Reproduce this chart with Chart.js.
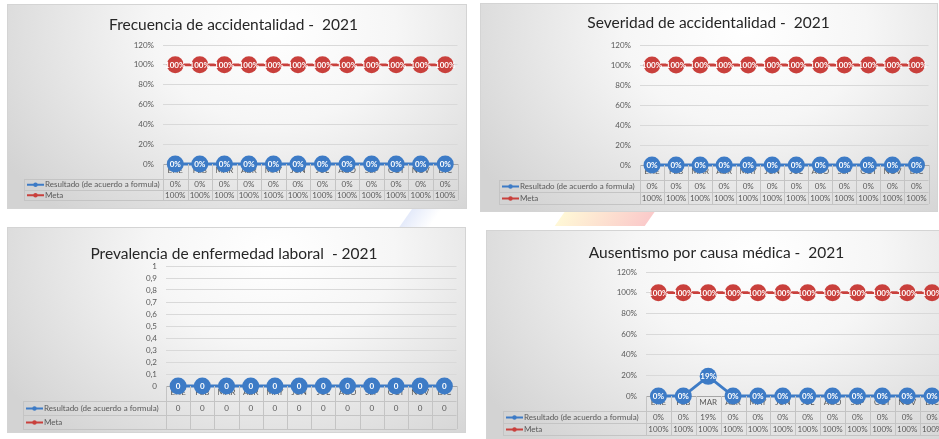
<!DOCTYPE html>
<html>
<head>
<meta charset="utf-8">
<script src="https://cdn.jsdelivr.net/npm/chart.js@4.4.1/dist/chart.umd.min.js"></script>
<style>
  html, body { margin: 0; padding: 0; background: #ffffff; overflow: hidden; }
  body { width: 939px; height: 439px; position: relative; font-family: Lato, sans-serif; }
  .panel {
    position: absolute;
    box-sizing: border-box;
    border: 1px solid #d4d4d4;
    background: radial-gradient(ellipse 70% 120% at 58% 12%, #ffffff 0%, #f6f6f6 38%, #d3d3d3 100%);
  }
  .panel canvas { position: absolute; left: 0; top: 0; }
  .deco { position: absolute; transform: skewX(-35deg); }
</style>
</head>
<body>
<div class="deco" style="left:560px;top:211px;width:90px;height:15px;background:linear-gradient(90deg,rgba(255,230,120,0.3),rgba(240,80,80,0.3));"></div>
<div class="deco" style="left:405px;top:208px;width:30px;height:22px;background:linear-gradient(90deg,rgba(120,150,230,0.2),rgba(120,150,230,0));"></div>
<div class="deco" style="left:700px;top:428px;width:60px;height:14px;background:linear-gradient(90deg,rgba(90,110,220,0.2),rgba(90,110,220,0));"></div>

<div class="panel" id="p1" style="left:7px;top:4px;width:460px;height:205px;"><canvas id="c1"></canvas></div>
<div class="panel" id="p2" style="left:480px;top:3px;width:458px;height:209px;"><canvas id="c2"></canvas></div>
<div class="panel" id="p3" style="left:7px;top:227px;width:459px;height:206px;"><canvas id="c3"></canvas></div>
<div class="panel" id="p4" style="left:486px;top:230px;width:468px;height:210px;"><canvas id="c4"></canvas></div>

<script>
// months shown in the data table header row
const months = ['ENE', 'FEB', 'MAR', 'ABR', 'MAY', 'JUN', 'JUL', 'AGO', 'SEP', 'OCT', 'NOV', 'DIC'];
const seriesNames = ['Resultado (de acuerdo a formula)', 'Meta'];

// Frecuencia de accidentalidad
const frecuenciaResultado = [0, 0, 0, 0, 0, 0, 0, 0, 0, 0, 0, 0];
const frecuenciaMeta = [1, 1, 1, 1, 1, 1, 1, 1, 1, 1, 1, 1];

// Severidad de accidentalidad
const severidadResultado = [0, 0, 0, 0, 0, 0, 0, 0, 0, 0, 0, 0];
const severidadMeta = [1, 1, 1, 1, 1, 1, 1, 1, 1, 1, 1, 1];

// Prevalencia de enfermedad laboral (no meta values)
const prevalenciaResultado = [0, 0, 0, 0, 0, 0, 0, 0, 0, 0, 0, 0];
const prevalenciaMeta = [null, null, null, null, null, null, null, null, null, null, null, null];

// Ausentismo por causa médica
const ausentismoResultado = [0, 0, 0.19, 0, 0, 0, 0, 0, 0, 0, 0, 0];
const ausentismoMeta = [1, 1, 1, 1, 1, 1, 1, 1, 1, 1, 1, 1];

// tick values for the axes
const pctTicks = [0, 0.2, 0.4, 0.6, 0.8, 1, 1.2];
const decTicks = [0, 0.1, 0.2, 0.3, 0.4, 0.5, 0.6, 0.7, 0.8, 0.9, 1];

const BLUE = '#3d7bc6';
const RED = '#c9403c';
const TEXT = '#595959';
const FONT = 'Lato, sans-serif';

const fmtPct = (v) => Math.round(v * 100) + '%';
const fmtDec = (v) => {
  if (v === null || v === undefined) return '';
  const r = Math.round(v * 10) / 10;
  return Number.isInteger(r) ? String(r) : r.toFixed(1).replace('.', ',');
};

/**
 * Writes the value of each point in white on top of its marker.
 */
const pointLabels = {
  id: 'pointLabels',
  afterDatasetsDraw(chart, args, opts) {
    const ctx = chart.ctx;
    ctx.save();
    ctx.font = 'bold 8px ' + FONT;
    ctx.fillStyle = '#ffffff';
    ctx.textAlign = 'center';
    ctx.textBaseline = 'middle';
    chart.data.datasets.forEach((ds, i) => {
      const meta = chart.getDatasetMeta(i);
      meta.data.forEach((pt, j) => {
        const v = ds.data[j];
        if (v === null || v === undefined) return;
        ctx.fillText(opts.format(v), pt.x, pt.y + 0.5);
      });
    });
    ctx.restore();
  }
};

/**
 * Draws the Excel style data table below the x axis, using the x scale columns.
 */
const dataTable = {
  id: 'dataTable',
  afterDraw(chart, args, opts) {
    const { ctx, chartArea: a } = chart;
    const n = chart.data.labels.length;
    const colW = (a.right - a.left) / n;
    const headBottom = a.bottom + opts.headH;
    const rowH = opts.rowH;
    const tableBottom = headBottom + rowH * chart.data.datasets.length;
    ctx.save();
    ctx.strokeStyle = '#c4c4c4';
    ctx.lineWidth = 1;
    ctx.beginPath();
    // vertical column lines
    for (let i = 0; i <= n; i++) {
      const x = Math.round(a.left + i * colW) + 0.5;
      ctx.moveTo(x, a.bottom);
      ctx.lineTo(x, tableBottom);
    }
    // left border of legend column
    ctx.moveTo(opts.left + 0.5, headBottom);
    ctx.lineTo(opts.left + 0.5, tableBottom);
    // horizontal row lines
    for (let r = 0; r <= chart.data.datasets.length; r++) {
      const y = Math.round(headBottom + r * rowH) + 0.5;
      ctx.moveTo(opts.left, y);
      ctx.lineTo(a.right, y);
    }
    ctx.stroke();

    ctx.font = '8px ' + FONT;
    ctx.textBaseline = 'middle';
    chart.data.datasets.forEach((ds, r) => {
      const cy = headBottom + r * rowH + rowH / 2 + 0.5;
      // legend key: line with small marker
      ctx.strokeStyle = ds.borderColor;
      ctx.lineWidth = 2;
      ctx.beginPath();
      ctx.moveTo(opts.left + 3, cy);
      ctx.lineTo(opts.left + 20, cy);
      ctx.stroke();
      ctx.fillStyle = ds.borderColor;
      ctx.beginPath();
      ctx.arc(opts.left + 11.5, cy, 2.2, 0, Math.PI * 2);
      ctx.fill();
      ctx.fillStyle = TEXT;
      ctx.textAlign = 'left';
      ctx.fillText(ds.label, opts.left + 21, cy);
      ctx.textAlign = 'center';
      ds.data.forEach((v, j) => {
        if (v === null || v === undefined) return;
        ctx.fillText(opts.format(v), a.left + (j + 0.5) * colW, cy);
      });
    });
    ctx.restore();
  }
};

/**
 * Builds one panel chart. Layout numbers are relative to the panel box.
 */
function makePanel(canvasId, cfg) {
  const canvas = document.getElementById(canvasId);
  const box = canvas.parentElement;
  const W = box.clientWidth;
  const H = box.clientHeight;
  canvas.width = W;
  canvas.height = H;
  canvas.style.width = W + 'px';
  canvas.style.height = H + 'px';
  const titleSize = 15.5;
  const titleLine = titleSize * 1.2;
  const titleTop = cfg.titleY - titleLine / 2;
  const titleBottom = cfg.plotTop - titleTop - titleLine;
  const headH = 15;
  const rowH = cfg.rowH;

  const makeSet = (label, data, color) => ({
    label: label,
    data: data,
    borderColor: color,
    backgroundColor: color,
    borderWidth: 2.8,
    pointRadius: 8.5,
    pointHoverRadius: 8.5,
    pointBackgroundColor: color,
    pointBorderColor: color,
    pointBorderWidth: 0,
    spanGaps: false,
    clip: false,
  });

  return new Chart(canvas, {
    type: 'line',
    data: {
      labels: months,
      datasets: [
        makeSet(seriesNames[0], cfg.resultado, BLUE),
        makeSet(seriesNames[1], cfg.meta, RED),
      ],
    },
    plugins: [pointLabels, dataTable],
    options: {
      responsive: false,
      animation: false,
      devicePixelRatio: 1,
      layout: {
        padding: {
          left: 0,
          top: 0,
          right: W - cfg.plotRight,
          bottom: H - cfg.plotBottom - headH,
        },
      },
      plugins: {
        legend: { display: false },
        tooltip: { enabled: false },
        title: {
          display: true,
          text: cfg.title,
          color: '#262626',
          font: { family: FONT, size: titleSize, weight: 'normal', lineHeight: 1.2 },
          padding: { top: titleTop, bottom: titleBottom },
        },
        pointLabels: { format: cfg.format },
        dataTable: { left: cfg.tableLeft, headH: headH, rowH: rowH, format: cfg.format },
      },
      scales: {
        x: {
          offset: true,
          grid: { display: false, drawTicks: false },
          border: { display: true, color: '#a6a6a6', width: 1 },
          ticks: { color: TEXT, font: { family: FONT, size: 8 }, padding: 2, maxRotation: 0, autoSkip: false },
          afterFit(scale) { scale.height = headH; },
        },
        y: {
          min: 0,
          max: cfg.ticks[cfg.ticks.length - 1],
          afterBuildTicks(scale) { scale.ticks = cfg.ticks.map((v) => ({ value: v })); },
          grid: { color: '#d9d9d9', drawTicks: false },
          border: { display: false },
          ticks: {
            color: TEXT,
            font: { family: FONT, size: 8 },
            padding: 9,
            autoSkip: false,
            callback: (v) => cfg.tickFormat(v),
          },
          afterFit(scale) { scale.width = cfg.plotLeft; },
        },
      },
    },
  });
}

document.addEventListener('DOMContentLoaded', () => {
  makePanel('c1', {
    title: 'Frecuencia de accidentalidad -  2021',
    resultado: frecuenciaResultado,
    meta: frecuenciaMeta,
    ticks: pctTicks,
    tickFormat: fmtPct,
    format: fmtPct,
    titleY: 20, plotTop: 40, plotBottom: 159, plotLeft: 155, plotRight: 451,
    tableLeft: 16, rowH: 10.5,
  });
  makePanel('c2', {
    title: 'Severidad de accidentalidad -  2021',
    resultado: severidadResultado,
    meta: severidadMeta,
    ticks: pctTicks,
    tickFormat: fmtPct,
    format: fmtPct,
    titleY: 19, plotTop: 41, plotBottom: 161, plotLeft: 159, plotRight: 455,
    tableLeft: 18, rowH: 12,
  });
  makePanel('c3', {
    title: 'Prevalencia de enfermedad laboral  - 2021',
    resultado: prevalenciaResultado,
    meta: prevalenciaMeta,
    ticks: decTicks,
    tickFormat: fmtDec,
    format: fmtDec,
    titleY: 26, plotTop: 38, plotBottom: 158, plotLeft: 158, plotRight: 452,
    tableLeft: 15, rowH: 14,
  });
  makePanel('c4', {
    title: 'Ausentismo por causa médica -  2021',
    resultado: ausentismoResultado,
    meta: ausentismoMeta,
    ticks: pctTicks,
    tickFormat: fmtPct,
    format: fmtPct,
    titleY: 22, plotTop: 41, plotBottom: 165, plotLeft: 159, plotRight: 459,
    tableLeft: 16, rowH: 12,
  });
});
</script>
</body>
</html>
